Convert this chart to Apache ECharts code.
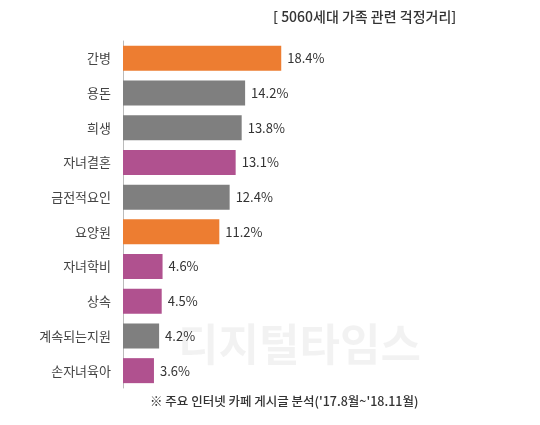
<!DOCTYPE html>
<html><head><meta charset="utf-8">
<script src="https://cdn.jsdelivr.net/npm/echarts@6/dist/echarts.min.js"></script>
<style>body{margin:0;background:#fff}#c{width:540px;height:425px}</style>
</head><body><div id="c"></div>
<script>
var categories = ['간병', '용돈', '희생', '자녀결혼', '금전적요인', '요양원', '자녀학비', '상속', '계속되는지원', '손자녀육아'];
var values = [18.4, 14.2, 13.8, 13.1, 12.4, 11.2, 4.6, 4.5, 4.2, 3.6];
var groups = ['o', 'g', 'g', 'm', 'g', 'o', 'm', 'm', 'g', 'm'];
var palette = { o: '#ED7D31', g: '#7F7F7F', m: '#B0518F' };

var myChart = echarts.init(document.getElementById('c'));
var font = '"Noto Sans CJK KR", sans-serif';
var option = {
  animation: false,
  title: {
    text: '[ 5060세대 가족 관련 걱정거리]',
    left: 268, top: 5,
    textStyle: { fontFamily: font, fontSize: 14, fontWeight: 500, color: '#333' }
  },
  graphic: [
    { type: 'text', left: 150, top: 395, style: { text: "※ 주요 인터넷 카페 게시글 분석('17.8월~'18.11월)", font: '500 12.5px ' + font, fill: '#333' } },
    { type: 'text', left: 178, top: 322, style: { text: '디지털타임스', font: 'bold 44px ' + font, fill: 'rgba(0,0,0,0.05)' } }
  ],
  grid: { left: 123, top: 41, width: 172, height: 347 },
  xAxis: { type: 'value', min: 0, max: 20, show: false },
  yAxis: {
    type: 'category', inverse: true, data: categories,
    axisLine: { lineStyle: { color: '#bbb' } },
    axisTick: { length: 5, lineStyle: { color: '#bbb' } },
    axisLabel: { fontFamily: font, fontSize: 13, color: '#444', margin: 12 }
  },
  series: [{
    type: 'bar', barWidth: 25,
    data: values.map(function (v, i) { return { value: v, itemStyle: { color: palette[groups[i]] } }; }),
    label: { show: true, position: 'right', distance: 6, formatter: '{c}%', fontFamily: font, fontSize: 13, color: '#333' }
  }]
};
myChart.setOption(option);
</script></body></html>
